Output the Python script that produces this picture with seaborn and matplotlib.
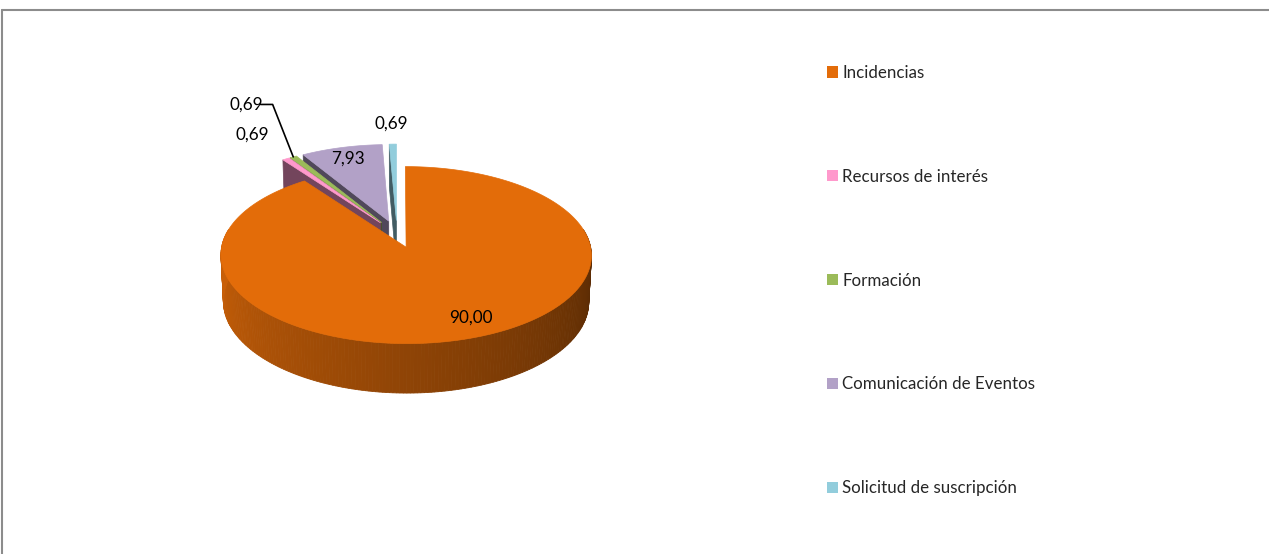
import numpy as np
import matplotlib
matplotlib.use("Agg")
import matplotlib.pyplot as plt
import seaborn as sns
from matplotlib.patches import Polygon, Patch
from matplotlib.lines import Line2D

# datos del gráfico
categories = ["Incidencias", "Recursos de interés", "Formación",
              "Comunicación de Eventos", "Solicitud de suscripción"]
values = [90.00, 0.69, 0.69, 7.93, 0.69]
value_labels = ["90,00", "0,69", "0,69", "7,93", "0,69"]
colors = ["#E36C09", "#FF99CC", "#9BBB59", "#B2A1C7", "#92CDDC"]

sns.set_theme(style="white")
plt.rcParams['font.family'] = ['Lato', 'DejaVu Sans']

W, H = 1269, 554
fig = plt.figure(figsize=(W / 100, H / 100), dpi=100)
ax = fig.add_axes([0, 0, 1, 1])
ax.set_xlim(0, W)
ax.set_ylim(H, 0)
ax.axis('off')

# proyección en perspectiva del pastel 3D
cx, cy = 397, 234
f, D = 1820, 10.0
phi = np.radians(28)
h = 0.29
explode = 0.16


def proj(X, Y, Z=0.0):
    up = Y * np.sin(phi) + Z * np.cos(phi)
    depth = D + Y * np.cos(phi) - Z * np.sin(phi)
    return cx + f * X / depth, cy - f * up / depth


pal = sns.color_palette(colors)
fracs = np.array(values) / sum(values)
bounds = np.concatenate([[0], np.cumsum(fracs)]) * 2 * np.pi

slices = []
for i in range(len(values)):
    t0, t1 = bounds[i], bounds[i + 1]
    tm = (t0 + t1) / 2
    ox, oy = explode * np.sin(tm), explode * np.cos(tm)
    slices.append((t0, t1, tm, ox, oy))

# de atrás hacia delante
order = sorted(range(len(values)),
               key=lambda i: -(slices[i][4] + 0.5 * np.cos(slices[i][2])))


def shade(c, k):
    return tuple(min(1, max(0, v * k)) for v in c)


def side_k(t):
    d = np.degrees(t) % 360
    d = min(max(d, 90), 270)
    return 0.38 + (d - 90) / 180 * 0.50


for i in order:
    t0, t1, tm, ox, oy = slices[i]
    c = pal[i]
    n = max(int(np.degrees(t1 - t0)), 2)
    ts = np.linspace(t0, t1, n + 1)
    tip_top = proj(ox, oy, 0)
    tip_bot = proj(ox, oy, -h)

    def rim(t, z):
        return proj(ox + np.sin(t), oy + np.cos(t), z)

    # caras de corte
    if np.sin(t0) < -1e-9:
        ax.add_patch(Polygon([tip_top, rim(t0, 0), rim(t0, -h), tip_bot],
                             closed=True, fc=shade(c, 0.45), ec=shade(c, 0.45), lw=0.5))
    if np.sin(t1) > 1e-9:
        ax.add_patch(Polygon([tip_top, rim(t1, 0), rim(t1, -h), tip_bot],
                             closed=True, fc=shade(c, 0.45), ec=shade(c, 0.45), lw=0.5))
    # lateral
    for a, b in zip(ts[:-1], ts[1:]):
        if np.cos((a + b) / 2) < 0.2:
            k = side_k((a + b) / 2)
            col = shade(c, k)
            ax.add_patch(Polygon([rim(a, 0), rim(b, 0), rim(b, -h), rim(a, -h)],
                                 closed=True, fc=col, ec=col, lw=0.6))
    # cara superior
    pts = [tip_top] + [rim(t, 0) for t in ts]
    ax.add_patch(Polygon(pts, closed=True, fc=c, ec=c, lw=0.5))

# etiquetas de datos
label_r = [0.75, 1.3, 1.55, 0.78, 1.3]
label_nudge = [(18, 4), (-8, -7), (-3, -20), (-3, -4), (-1, 0)]
for i, (t0, t1, tm, ox, oy) in enumerate(slices):
    r = label_r[i]
    lx, ly = proj(ox + r * np.sin(tm), oy + r * np.cos(tm))
    lx, ly = lx + label_nudge[i][0], ly + label_nudge[i][1]
    ax.text(lx, ly, value_labels[i], ha='center', va='center',
            fontsize=12.3, color='black')
    if i == 2:
        ex, ey = proj(ox + np.sin(tm), oy + np.cos(tm))
        ax.plot([lx + 14, lx + 26, ex], [ly, ly, ey], color='black', lw=1.2)

# leyenda
handles = [Patch(facecolor=c, edgecolor='none') for c in pal]
fig.legend(handles, categories, loc='upper left',
           bbox_to_anchor=(827 / W, 1 - 65 / H), frameon=False,
           fontsize=12.2, handlelength=0.64, handleheight=0.64,
           handletextpad=0.25, labelspacing=5.18, borderpad=0,
           borderaxespad=0)

# borde del área del gráfico
fig.add_artist(Line2D([2.5 / W, 2.5 / W], [0, 1 - 9.5 / H],
                      transform=fig.transFigure, color='#8c8c8c', lw=1.5))
fig.add_artist(Line2D([2.5 / W, 1], [1 - 9.5 / H, 1 - 9.5 / H],
                      transform=fig.transFigure, color='#8c8c8c', lw=1.5))

fig.savefig("out.png", dpi=100)
